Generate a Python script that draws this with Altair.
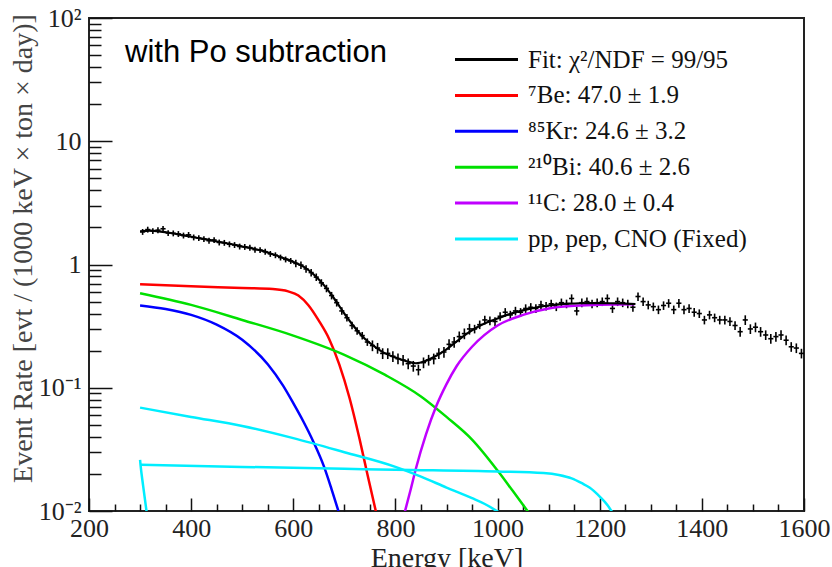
import altair as alt
import pandas as pd

# ---------------- data ----------------
bin_E = list(range(305, 1600, 10))  # 10 keV bin centres, 300-1600 keV

data_v = [
    1.84, 1.92, 1.87, 1.90, 1.95, 1.80, 1.79, 1.77, 1.72, 1.74,
    1.66, 1.64, 1.61, 1.56, 1.58, 1.51, 1.50, 1.46, 1.44, 1.40,
    1.39, 1.37, 1.32, 1.31, 1.27, 1.22, 1.19, 1.14, 1.10, 1.07,
    1.02, 0.99, 0.92, 0.86, 0.79, 0.71, 0.64, 0.56, 0.49, 0.42,
    0.37, 0.32, 0.29, 0.265, 0.235, 0.22, 0.21, 0.19, 0.19, 0.18,
    0.172, 0.168, 0.157, 0.150, 0.140, 0.160, 0.168, 0.172, 0.19, 0.195,
    0.225, 0.235, 0.26, 0.275, 0.30, 0.30, 0.325, 0.355, 0.35, 0.345,
    0.38, 0.41, 0.39, 0.42, 0.41, 0.44, 0.45, 0.44, 0.47, 0.46,
    0.48, 0.455, 0.49, 0.48, 0.53, 0.42, 0.49, 0.50, 0.48, 0.49,
    0.50, 0.53, 0.44, 0.50, 0.49, 0.48, 0.45,
    0.55, 0.50, 0.47, 0.455, 0.43, 0.465, 0.485, 0.43, 0.485, 0.43,
    0.44, 0.41, 0.40, 0.355, 0.39, 0.37, 0.355, 0.355, 0.345, 0.32,
    0.285, 0.355, 0.30, 0.31, 0.285, 0.268, 0.25, 0.26, 0.268, 0.243,
    0.215, 0.21, 0.19,
]
data_rel_err = [0.055] * 30 + [0.07] * 15 + [0.10] * 20 + [0.08] * 32 + [0.08] * 20 + [0.09] * 13

fit_E = [300, 320, 340, 360, 380, 400, 420, 440, 460, 480, 500, 520, 540, 560, 580,
         600, 620, 640, 660, 680, 700, 720, 740, 760, 780, 800, 820, 840, 860, 880,
         900, 920, 940, 960, 980, 1000, 1020, 1040, 1060, 1080, 1100, 1120, 1140,
         1160, 1180, 1200, 1220, 1240, 1260, 1270]
fit_v = [1.86, 1.88, 1.85, 1.80, 1.74, 1.68, 1.62, 1.57, 1.51, 1.46, 1.40, 1.35, 1.29,
         1.21, 1.13, 1.05, 0.96, 0.83, 0.68, 0.53, 0.40, 0.31, 0.25, 0.215, 0.19, 0.176,
         0.165, 0.158, 0.166, 0.182, 0.205, 0.238, 0.275, 0.31, 0.34, 0.365, 0.392,
         0.415, 0.435, 0.452, 0.465, 0.475, 0.481, 0.485, 0.486, 0.486, 0.485, 0.483,
         0.48, 0.478]

be7_E = [300, 400, 500, 560, 590, 610, 630, 650, 670, 690, 710, 730, 745, 762]
be7_v = [0.69, 0.665, 0.645, 0.632, 0.605, 0.56, 0.465, 0.35, 0.25, 0.155, 0.083, 0.038, 0.02, 0.0098]

kr85_E = [300, 350, 400, 450, 500, 550, 580, 600, 620, 640, 660, 675, 690]
kr85_v = [0.465, 0.435, 0.39, 0.325, 0.245, 0.155, 0.104, 0.075, 0.053, 0.036, 0.023, 0.015, 0.0095]

bi210_E = [300, 400, 500, 600, 700, 780, 850, 900, 950, 1000, 1030, 1061]
bi210_v = [0.585, 0.47, 0.355, 0.265, 0.185, 0.127, 0.085, 0.058, 0.038, 0.0213, 0.0145, 0.0097]

c11_E = [818, 830, 840, 860, 880, 900, 920, 950, 1000, 1050, 1100, 1150, 1200, 1268]
c11_v = [0.0097, 0.015, 0.022, 0.042, 0.071, 0.107, 0.15, 0.215, 0.32, 0.39, 0.44, 0.462, 0.472, 0.475]

cno_E = [300, 400, 500, 600, 700, 800, 850, 900, 950, 975, 1002]
cno_v = [0.069, 0.058, 0.049, 0.039, 0.030, 0.0228, 0.019, 0.0155, 0.0127, 0.0114, 0.0098]

pep_E = [300, 500, 700, 800, 1000, 1090, 1120, 1145, 1165, 1180, 1200, 1215, 1225]
pep_v = [0.0237, 0.0228, 0.022, 0.0216, 0.0209, 0.0203, 0.0196, 0.0184, 0.0168, 0.0155, 0.0131, 0.0112, 0.0097]

pp_E = [300, 301, 306, 313]
pp_v = [0.026, 0.0235, 0.016, 0.0097]

legend_labels = ["Fit: χ²/NDF = 99/95", "⁷Be: 47.0 ± 1.9", "⁸⁵Kr: 24.6 ± 3.2",
                 "²¹⁰Bi: 40.6 ± 2.6", "¹¹C: 28.0 ± 0.4", "pp, pep, CNO (Fixed)"]
legend_colors = ["#000000", "#ff0000", "#0000ff", "#00e000", "#c000ff", "#00eeff"]

x_major_ticks = [200, 400, 600, 800, 1000, 1200, 1400, 1600]
x_minor_ticks = [250, 300, 350, 450, 500, 550, 650, 700, 750, 850, 900, 950,
                 1050, 1100, 1150, 1250, 1300, 1350, 1450, 1500, 1550]
y_major_ticks = [0.01, 0.1, 1, 10, 100]
y_minor_ticks = [0.02, 0.03, 0.04, 0.05, 0.06, 0.07, 0.08, 0.09,
                 0.2, 0.3, 0.4, 0.5, 0.6, 0.7, 0.8, 0.9,
                 2, 3, 4, 5, 6, 7, 8, 9,
                 20, 30, 40, 50, 60, 70, 80, 90]

note_text = "with Po subtraction"

# ---------------- tables ----------------
pts = pd.DataFrame({"E": bin_E, "v": data_v, "r": data_rel_err})
pts["lo"] = pts["v"] * (1 - pts["r"])
pts["hi"] = pts["v"] * (1 + pts["r"])
pts["xlo"] = pts["E"] - 5
pts["xhi"] = pts["E"] + 5

curve_specs = [
    ("be7", 1, be7_E, be7_v, 2.5),
    ("kr85", 2, kr85_E, kr85_v, 2.5),
    ("bi210", 3, bi210_E, bi210_v, 2.5),
    ("c11", 4, c11_E, c11_v, 2.5),
    ("cno", 5, cno_E, cno_v, 2.5),
    ("pep", 5, pep_E, pep_v, 2.5),
    ("pp", 5, pp_E, pp_v, 2.5),
    ("fit", 0, fit_E, fit_v, 2.2),
]
rows = []
for cid, li, es, vs, w in curve_specs:
    for i, (e, v) in enumerate(zip(es, vs)):
        rows.append({"curve": cid, "comp": legend_labels[li], "E": e, "v": v, "sw": w, "o": i})
lines_df = pd.DataFrame(rows)

# ---------------- scales & axes ----------------
SERIF = "Liberation Serif"
xs = alt.Scale(domain=[200, 1600], nice=False, zero=False)
ys = alt.Scale(type="log", domain=[0.01, 100], nice=False)

x_major = alt.Axis(orient="bottom", values=x_major_ticks, tickSize=13, offset=-13,
                   domain=False, grid=False, tickColor="#111", tickWidth=1.5,
                   format="d",
                   labelFont=SERIF, labelFontSize=26, labelColor="#222", labelPadding=4,
                   labelFlush=False, labelOverlap=False,
                   title="Energy [keV]", titleFont=SERIF, titleFontSize=28,
                   titleFontWeight="normal", titleColor="#222",
                   titleX=357.5, titleY=68, titleAlign="center", titleBaseline="alphabetic")
x_minor = alt.Axis(orient="bottom", values=x_minor_ticks, tickSize=7, offset=-7,
                   domain=False, grid=False, labels=False, title=None,
                   tickColor="#111", tickWidth=1.5)
y_major = alt.Axis(orient="left", values=y_major_ticks, tickSize=23, offset=-23,
                   domain=False, grid=False, tickColor="#111", tickWidth=1.5,
                   labelExpr="datum.value >= 50 ? '10²' : datum.value >= 5 ? '10' : datum.value >= 0.5 ? '1' : datum.value >= 0.05 ? '10⁻¹' : '10⁻²'",
                   labelFont=SERIF, labelFontSize=26, labelColor="#222", labelPadding=8,
                   labelFlush=False, labelOverlap=False,
                   title="Event Rate [evt / (1000 keV × ton × day)]", titleFont=SERIF,
                   titleFontSize=28, titleFontWeight="normal", titleColor="#444",
                   titleAngle=270, titleX=-81, titleY=230, titleAlign="center",
                   titleBaseline="alphabetic")
y_minor = alt.Axis(orient="left", values=y_minor_ticks, tickSize=12, offset=-12,
                   domain=False, grid=False, labels=False, title=None,
                   tickColor="#111", tickWidth=1.5)

# ---------------- layers ----------------
vbars = alt.Chart(pts).mark_rule(color="black", strokeWidth=1.6).encode(
    x=alt.X("E:Q", scale=xs, axis=x_major),
    y=alt.Y("lo:Q", scale=ys, axis=y_major),
    y2="hi:Q",
)
hbars = alt.Chart(pts).mark_rule(color="black", strokeWidth=1.6).encode(
    x=alt.X("xlo:Q", scale=xs, axis=x_minor),
    x2="xhi:Q",
    y=alt.Y("v:Q", scale=ys, axis=y_minor),
)
lines = alt.Chart(lines_df).mark_line(clip=True, interpolate="monotone").encode(
    x=alt.X("E:Q", scale=xs, axis=None),
    y=alt.Y("v:Q", scale=ys, axis=None),
    color=alt.Color("comp:N",
                    scale=alt.Scale(domain=legend_labels, range=legend_colors),
                    legend=alt.Legend(title=None, orient="none", legendX=385, legendY=29,
                                      symbolType="M-3,0H3", symbolSize=441,
                                      symbolStrokeWidth=3, symbolFillColor="transparent",
                                      labelFont=SERIF,
                                      labelFontSize=25, labelColor="#111",
                                      labelOffset=29, rowPadding=9.9, padding=0,
                                      labelLimit=400)),
    detail="curve:N",
    order="o:Q",
    strokeWidth=alt.StrokeWidth("sw:Q", scale=None, legend=None),
)
note = alt.Chart(pd.DataFrame({"t": [note_text]})).mark_text(
    align="left", baseline="alphabetic", font="Liberation Sans", fontSize=31, color="black"
).encode(x=alt.value(36), y=alt.value(44), text="t:N")

chart = alt.layer(vbars, hbars, lines, note).resolve_axis(
    x="independent", y="independent"
).properties(
    width=715, height=493,
    autosize=alt.AutoSizeParams(type="none"),
    padding={"left": 89, "top": 18, "right": 28, "bottom": 56},
).configure_view(stroke="#222", strokeWidth=2).configure_axis(grid=False)

chart.save("out.html", embed_options={"renderer": "svg", "actions": False})
